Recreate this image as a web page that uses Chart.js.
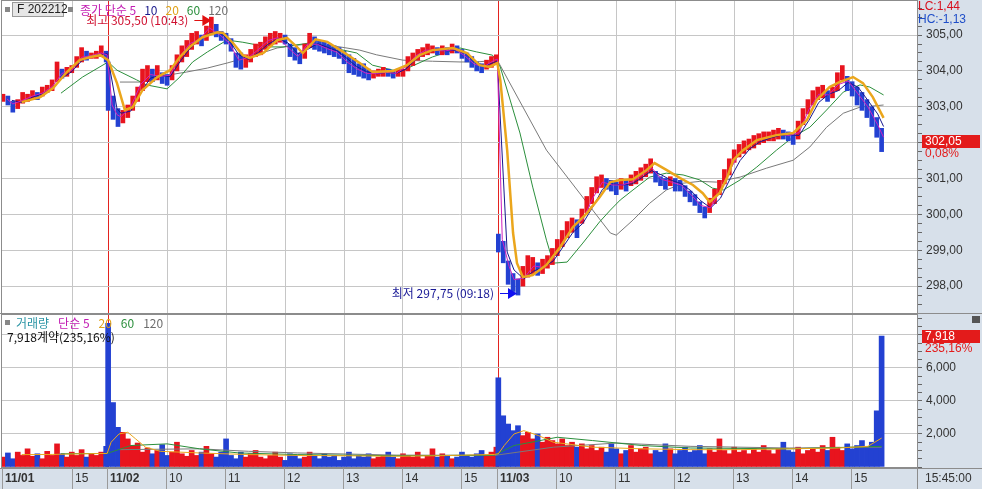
<!DOCTYPE html>
<html>
<head>
<meta charset="utf-8">
<script src="https://cdn.jsdelivr.net/npm/chart.js@4.4.0/dist/chart.umd.min.js"></script>
<style>
  html, body { margin: 0; padding: 0; background: #fff; }
  #wrap { position: relative; width: 982px; height: 489px; overflow: hidden; }
  #price { position: absolute; left: 0; top: 0; }
  #vol { position: absolute; left: 0; top: 314px; }
</style>
</head>
<body>
<div id="wrap">
  <canvas id="price" width="982" height="314"></canvas>
  <canvas id="vol" width="982" height="175"></canvas>
</div>
<script>
// 1분봉 인덱스: 11/01 13:49 부터, 11/02 09:00 = 107, 11/03 09:00 = 504
const sessionStart = [0, 107, 504];
const sessionBuckets = [22, 80, 79];
const BUCKET = 5;

const timeTicks = [0, 71, 107, 167, 227, 287, 347, 407, 467, 504, 564, 624, 684, 744, 804, 864];
const timeLabels = ['11/01', '15', '11/02', '10', '11', '12', '13', '14', '15', '11/03', '10', '11', '12', '13', '14', '15'];
const dayTicks = [107, 504];

// 가격 (5분 구간 고가/저가)
const candleHi = [
  303.35, 303.30, 303.15, 303.20, 303.40, 303.35, 303.45, 303.40, 303.55, 303.60, 303.75, 304.25, 304.05, 304.10, 304.15, 304.40, 304.65, 304.55, 304.50, 304.55, 304.70, 304.55,
  304.25, 303.30,
  302.95, 302.90, 303.05, 303.30, 303.55, 304.05, 304.15, 304.05, 304.15, 303.95,
  303.90, 304.15, 304.45, 304.70, 304.85, 305.05, 305.10, 305.00, 305.25, 305.50,
  305.30, 305.10, 305.05, 304.90, 304.50, 304.50, 304.45, 304.60, 304.75, 304.80,
  304.95, 305.05, 305.10, 305.05, 305.00, 304.75, 304.65, 304.50, 304.75, 305.05,
  304.95, 304.85, 304.80, 304.75, 304.70, 304.65, 304.55, 304.45, 304.35, 304.20,
  304.20, 304.05, 304.00, 304.05, 304.10, 304.05, 304.00, 304.05, 304.05, 304.40,
  304.50, 304.60, 304.65, 304.75, 304.70, 304.65, 304.70, 304.65, 304.75, 304.70,
  304.60, 304.50, 304.40, 304.25, 304.20, 304.30, 304.40, 304.45,
  299.45, 299.25, 298.70, 298.35, 298.20, 298.55, 298.85, 298.80, 298.65, 298.75,
  298.85, 299.05, 299.30, 299.55, 299.80, 299.90, 299.85, 300.15, 300.50, 300.75,
  301.05, 301.10, 301.00, 300.95, 300.90, 301.00, 300.95, 301.10, 301.20, 301.30,
  301.40, 301.55, 301.20, 301.05, 301.00, 301.05, 301.00, 300.95, 300.80, 300.65,
  300.55, 300.35, 300.20, 300.45, 300.70, 300.95, 301.25, 301.55, 301.80, 301.95,
  302.05, 302.10, 302.20, 302.25, 302.30, 302.30, 302.35, 302.40, 302.35, 302.30,
  302.25, 302.60, 302.95, 303.20, 303.45, 303.55, 303.60, 303.45, 303.55, 303.95,
  304.15, 303.85, 303.70, 303.55, 303.40, 303.20, 303.00, 302.70, 302.40
];
const candleLo = [
  303.15, 303.05, 302.85, 302.95, 303.10, 303.15, 303.20, 303.20, 303.30, 303.40, 303.45, 303.70, 303.80, 303.85, 303.95, 304.10, 304.25, 304.30, 304.35, 304.35, 304.40, 304.25,
  302.90, 302.65,
  302.45, 302.55, 302.70, 302.90, 303.15, 303.45, 303.70, 303.70, 303.75, 303.65,
  303.60, 303.75, 304.00, 304.25, 304.40, 304.60, 304.75, 304.70, 304.85, 305.05,
  304.95, 304.85, 304.75, 304.55, 304.10, 304.05, 304.10, 304.25, 304.40, 304.45,
  304.60, 304.70, 304.75, 304.80, 304.75, 304.40, 304.30, 304.20, 304.35, 304.65,
  304.60, 304.55, 304.50, 304.45, 304.40, 304.35, 304.20, 303.95, 303.90, 303.85,
  303.80, 303.75, 303.80, 303.85, 303.85, 303.85, 303.80, 303.85, 303.85, 304.00,
  304.15, 304.30, 304.40, 304.45, 304.50, 304.45, 304.45, 304.45, 304.50, 304.50,
  304.35, 304.25, 304.10, 304.00, 303.95, 304.05, 304.10, 304.20,
  298.95, 298.65, 298.05, 297.85, 297.75, 298.00, 298.25, 298.35, 298.30, 298.35,
  298.50, 298.60, 298.85, 299.10, 299.35, 299.50, 299.35, 299.75, 300.05, 300.30,
  300.60, 300.75, 300.70, 300.65, 300.55, 300.70, 300.65, 300.80, 300.85, 300.95,
  301.05, 301.15, 300.90, 300.80, 300.70, 300.80, 300.65, 300.65, 300.50, 300.35,
  300.25, 300.05, 299.90, 300.05, 300.30, 300.55, 300.85, 301.10, 301.45, 301.60,
  301.70, 301.80, 301.85, 301.95, 302.00, 302.05, 302.05, 302.10, 302.10, 302.05,
  301.95, 302.10, 302.50, 302.80, 303.05, 303.20, 303.25, 303.15, 303.25, 303.45,
  303.75, 303.45, 303.30, 303.05, 302.90, 302.70, 302.45, 302.15, 301.75
];

// 이동평균 (종가 단순)
const ma5Idx = [4, 10, 20, 30, 40, 50, 60, 70, 80, 90, 100, 106,
  111, 116, 120, 130, 140, 150, 160, 170, 180, 190, 200, 210, 220, 230, 240, 250, 260, 270, 280, 290, 300, 310, 320, 330, 340, 350, 360, 370, 380, 390, 400, 410, 420, 430, 440, 450, 460, 470, 480, 490, 500, 503,
  508, 515, 520, 530, 540, 550, 560, 570, 580, 590, 600, 610, 620, 630, 640, 650, 660, 670, 680, 690, 700, 710, 720, 730, 740, 750, 760, 770, 780, 790, 800, 810, 820, 830, 840, 850, 860, 870, 880, 890, 896];
const ma5 = [303.22, 303.08, 303.18, 303.30, 303.38, 303.56, 303.93, 304.02, 304.38, 304.43, 304.50, 304.45,
  303.05, 302.78, 302.72, 303.00, 303.62, 303.90, 303.85, 303.88, 304.40, 304.76, 304.88, 305.20, 305.02, 304.78, 304.30, 304.38, 304.60, 304.85, 304.93, 304.65, 304.40, 304.75, 304.74, 304.62, 304.52, 304.25, 304.06, 303.93, 303.93, 303.96, 303.93, 304.12, 304.42, 304.58, 304.57, 304.56, 304.60, 304.42, 304.18, 304.13, 304.30, 304.33,
  299.30, 298.55, 298.18, 298.22, 298.56, 298.52, 298.78, 299.25, 299.66, 299.85, 300.45, 300.90, 300.82, 300.82, 300.90, 301.10, 301.30, 300.98, 300.90, 300.82, 300.55, 300.25, 300.18, 300.68, 301.25, 301.74, 301.93, 302.08, 302.17, 302.24, 302.20, 302.28, 302.92, 303.35, 303.33, 303.62, 303.72, 303.36, 303.00, 302.50, 302.15];

const ma10Idx = [9, 20, 30, 40, 50, 60, 70, 80, 90, 100, 106,
  116, 120, 130, 140, 150, 160, 170, 180, 190, 200, 210, 220, 230, 240, 250, 260, 270, 280, 290, 300, 310, 320, 330, 340, 350, 360, 370, 380, 390, 400, 410, 420, 430, 440, 450, 460, 470, 480, 490, 500, 503,
  513, 520, 530, 540, 550, 560, 570, 580, 590, 600, 610, 620, 630, 640, 650, 660, 670, 680, 690, 700, 710, 720, 730, 740, 750, 760, 770, 780, 790, 800, 810, 820, 830, 840, 850, 860, 870, 880, 890, 896];
const ma10 = [303.18, 303.12, 303.27, 303.36, 303.50, 303.80, 303.98, 304.28, 304.42, 304.47, 304.48,
  302.95, 302.82, 302.88, 303.38, 303.80, 303.88, 303.84, 304.25, 304.62, 304.86, 305.05, 305.08, 304.86, 304.45, 304.32, 304.52, 304.75, 304.90, 304.78, 304.48, 304.60, 304.76, 304.66, 304.56, 304.35, 304.12, 303.98, 303.92, 303.96, 303.93, 304.05, 304.32, 304.52, 304.58, 304.56, 304.58, 304.50, 304.25, 304.14, 304.24, 304.28,
  298.95, 298.45, 298.20, 298.42, 298.53, 298.70, 299.10, 299.50, 299.75, 300.20, 300.70, 300.85, 300.82, 300.85, 301.02, 301.22, 301.10, 300.95, 300.86, 300.66, 300.38, 300.18, 300.45, 301.00, 301.50, 301.83, 302.02, 302.12, 302.20, 302.22, 302.20, 302.62, 303.12, 303.35, 303.45, 303.68, 303.55, 303.18, 302.80, 302.45];

const ma20Idx = [19, 38, 51, 65, 78, 89, 99, 107, 116, 124, 132, 142, 157, 170, 180, 190, 203, 218, 224, 234, 244, 251, 265, 279,
  289, 299, 305, 312, 318, 330, 346, 363, 376, 397, 411, 424, 437, 458, 472, 485, 495, 503, 506, 513, 519, 523, 529, 539,
  553, 567, 580, 594, 607, 618, 628, 641, 655, 663, 675, 689, 702, 712, 719, 729, 737, 743, 753, 767, 787, 804, 818, 828,
  841, 851, 865, 875, 885, 896];
const ma20 = [303.13, 303.27, 303.52, 303.97, 304.30, 304.39, 304.44, 304.30, 303.66, 302.91, 302.99, 303.47, 303.83, 304.02, 304.39, 304.67, 304.94, 305.08, 305.06, 304.78, 304.44, 304.36, 304.50, 304.86,
  304.92, 304.67, 304.50, 304.70, 304.88, 304.81, 304.53, 304.22, 303.97, 304.00, 304.16, 304.44, 304.58, 304.64, 304.50, 304.16, 304.11, 304.22, 303.75, 301.79, 299.48, 298.64, 298.25, 298.31,
  298.59, 299.09, 299.65, 300.03, 300.48, 300.90, 300.96, 300.98, 301.24, 301.43, 301.24, 301.01, 300.82, 300.59, 300.35, 300.59, 301.04, 301.51, 301.79, 302.07, 302.21, 302.27, 302.63, 303.19,
  303.55, 303.69, 303.83, 303.66, 303.27, 302.69];

const ma60Idx = [59, 81, 107, 116, 136, 146, 167, 180, 193, 208, 228, 244, 269, 285, 312, 336, 360, 376, 397, 407,
  437, 465, 482, 498, 506, 526, 539, 553, 560, 574, 590, 607, 618, 628, 641, 658, 675, 692, 709, 722,
  733, 750, 767, 787, 804, 821, 838, 855, 872, 882, 896];
const ma60 = [303.38, 303.83, 304.25, 304.02, 303.75, 303.61, 303.50, 303.83, 304.25, 304.53, 304.86, 304.80, 304.67, 304.67, 304.78, 304.64, 304.50, 304.16, 304.02, 304.02,
  304.39, 304.64, 304.53, 304.44, 304.11, 302.27, 300.76, 299.28, 298.64, 298.67, 299.20, 299.79, 300.12, 300.40, 300.68, 301.04, 301.15, 301.10, 300.96, 300.73,
  300.68, 300.96, 301.32, 301.79, 302.16, 302.43, 302.91, 303.41, 303.61, 303.55, 303.33];

const ma120Idx = [119, 140, 167, 187, 208, 228, 258, 279, 300, 312, 336, 363, 380, 407, 437, 465, 482, 503, 553, 618,
  624, 641, 658, 675, 692, 709, 726, 750, 777, 804, 821, 838, 855, 872, 896];
const ma120 = [303.69, 303.69, 303.88, 303.97, 304.08, 304.22, 304.45, 304.64, 304.72, 304.75, 304.70, 304.58, 304.45, 304.30, 304.27, 304.25, 304.25, 304.30, 301.79, 299.48,
  299.42, 299.84, 300.31, 300.68, 300.87, 300.92, 300.90, 301.04, 301.29, 301.51, 301.88, 302.43, 302.82, 302.99, 303.05];

// 거래량 (5분 구간 대표 1분봉)
const volume = [
  600, 850, 500, 900, 700, 1100, 650, 800, 500, 950, 700, 1400, 800, 600, 900, 700, 1050, 600, 800, 700, 900, 1250,
  8700, 3900, 2400, 2100, 1700, 1300, 1450, 900, 1150, 800, 1000, 1350, 700, 900, 1500, 800, 650, 1000, 700, 900, 1250, 800, 600, 900, 1700,
  700, 500, 900, 600, 800, 1000, 600, 500, 700, 900,
  600, 400, 800, 700, 500, 600, 900, 700, 500, 800,
  600, 700, 400, 600, 900, 500, 700, 600, 800, 500,
  600, 700, 900, 600, 500, 800, 700, 600, 900, 500,
  700, 1100, 600, 800, 700, 500, 600, 900, 700, 600,
  800, 1000, 700, 900, 1200,
  5400, 3100, 2600, 2200, 2500, 1900, 2100, 1700, 2000, 1500,
  1800, 1600, 1400, 1700, 1300, 1500, 1200, 1400, 1100, 1300,
  1000, 1200, 900, 1400, 1100, 800, 1000, 1300, 900, 1100,
  1200, 800, 1000, 900, 1400, 1100, 800, 1000, 1200, 900,
  1000, 1300, 800, 1100, 900, 1700, 1000, 800, 1200, 900,
  1000, 800, 1100, 900, 1300, 1000, 800, 1100, 1500, 1000,
  900, 1200, 800, 1000, 1100, 900, 1300, 1000, 1800, 1200,
  1000, 1400, 1100, 1300, 1600, 1200, 1500, 3400, 7918
];
const vma20Idx = [19, 50, 80, 106, 110, 118, 127, 135, 145, 160, 200, 250, 300, 350, 400, 450, 500, 504, 510, 520, 530, 545, 560, 600, 650, 700, 750, 800, 850, 880, 894];
const vma20 = [750, 760, 800, 820, 1500, 2000, 2100, 1700, 1200, 950, 850, 750, 700, 680, 650, 690, 760, 800, 1300, 2000, 2200, 1900, 1500, 1200, 1100, 1050, 1050, 1100, 1150, 1250, 1750];
const vma60Idx = [59, 106, 130, 167, 200, 240, 300, 400, 500, 520, 564, 600, 650, 700, 800, 894];
const vma60 = [800, 820, 1300, 1400, 1100, 850, 750, 680, 720, 1300, 1800, 1600, 1300, 1150, 1100, 1250];
const vma120Idx = [119, 200, 250, 300, 400, 500, 560, 624, 700, 800, 894];
const vma120 = [1050, 1100, 950, 850, 720, 700, 1200, 1450, 1250, 1150, 1200];

// 표시값
const highIdx = 210, highPrice = 305.50, highTime = '10:43';
const lowIdx = 522, lowPrice = 297.75, lowTime = '09:18';
const lastClose = 302.05, changePct = 0.08;
const lcValue = 1.44, hcValue = -1.13;
const lastVolume = 7918, volumePct = 235.16;
const lastTime = '15:45:00';

const X_MIN = -1, X_MAX = 930;
const PANEL = '#d7e0ea';
const GRID = '#c6c6c6';
const FRAME = '#8c8c8c';
const FAMILY = "'Liberation Sans Narrow', 'Liberation Sans', 'Noto Sans CJK KR', sans-serif";
const KFAMILY = "'Noto Sans CJK KR', 'Liberation Sans', sans-serif";

Chart.defaults.animation = false;
Chart.defaults.elements.point.radius = 0;
Chart.defaults.elements.line.tension = 0;

const candleIdx = [];
sessionStart.forEach((s, d) => {
  for (let k = 0; k < sessionBuckets[d]; k++) candleIdx.push(s + k * BUCKET);
});
const mids = candleHi.map((h, i) => (h + candleLo[i]) / 2);
const barColors = mids.map((m, i) => (i === 0 || m >= mids[i - 1]) ? '#e8141e' : '#2341d2');

const pts = (xs, ys) => xs.map((x, i) => ({ x, y: ys[i] }));
const comma = (v, d) => v.toFixed(d).replace('.', ',');
const thousands = v => Math.round(v).toString().replace(/\B(?=(\d{3})+(?!\d))/g, ',');

function xAxis() {
  return {
    type: 'linear', min: X_MIN, max: X_MAX, offset: false,
    afterBuildTicks: s => { s.ticks = timeTicks.map(v => ({ value: v })); },
    afterFit: s => { s.height = 0; s.paddingLeft = 0; s.paddingRight = 0; },
    ticks: { display: false },
    grid: {
      offset: false, drawTicks: false,
      color: c => c.tick.value === 0 ? 'rgba(0,0,0,0)' : (dayTicks.includes(c.tick.value) ? '#e3231f' : GRID)
    },
    border: { display: false }
  };
}

function lineSet(xs, ys, color, width, order) {
  return { type: 'line', data: pts(xs, ys), borderColor: color, borderWidth: width, fill: false, order };
}

function legendRow(ctx, x, y, parts, gap) {
  parts.forEach(([t, c]) => {
    ctx.fillStyle = c;
    ctx.fillText(t, x, y);
    x += ctx.measureText(t).width + gap;
  });
}

function arrowRight(ctx, tipX, yy, color) {
  ctx.strokeStyle = color; ctx.fillStyle = color; ctx.lineWidth = 1;
  ctx.beginPath(); ctx.moveTo(tipX - 17, yy + 0.5); ctx.lineTo(tipX - 8, yy + 0.5); ctx.stroke();
  ctx.beginPath(); ctx.moveTo(tipX, yy + 0.5); ctx.lineTo(tipX - 9, yy - 5); ctx.lineTo(tipX - 9, yy + 6); ctx.closePath(); ctx.fill();
}

const priceFrame = {
  id: 'priceFrame',
  beforeDraw(chart) {
    const { ctx, chartArea: a, width, height } = chart;
    ctx.save();
    ctx.fillStyle = '#fff'; ctx.fillRect(0, 0, width, height);
    ctx.fillStyle = PANEL; ctx.fillRect(a.right, 0, width - a.right, height);
    ctx.restore();
  },
  afterDraw(chart) {
    const { ctx, chartArea: a, width, scales: { x, y } } = chart;
    ctx.save();
    ctx.strokeStyle = FRAME; ctx.lineWidth = 1;
    ctx.strokeRect(a.left - 0.5, a.top - 0.5, a.right - a.left + 1, a.bottom - a.top + 1);
    ctx.beginPath(); ctx.moveTo(0, a.bottom + 0.5); ctx.lineTo(width, a.bottom + 0.5); ctx.stroke();

    // 상단 범례
    ctx.textBaseline = 'middle';
    ctx.fillStyle = '#888'; ctx.fillRect(5, 7, 5, 5);
    ctx.fillStyle = '#e6e6e6'; ctx.fillRect(12, 2, 52, 15);
    ctx.strokeStyle = '#9a9a9a'; ctx.strokeRect(12.5, 2.5, 51, 14);
    ctx.font = '12px ' + FAMILY;
    ctx.fillStyle = '#222'; ctx.fillText('F 202212', 17, 10);
    ctx.fillStyle = '#888'; ctx.fillRect(68, 7, 5, 5);
    ctx.font = '12px ' + KFAMILY;
    legendRow(ctx, 80, 10, [['종가 단순 5', '#c21cb3'], ['10', '#1a1a8c'], ['20', '#e0a21a'], ['60', '#2b8f3c'], ['120', '#6d6d6d']], 8);

    // 최고 / 최저
    const hx = x.getPixelForValue(highIdx) + 2, hy = Math.round(y.getPixelForValue(highPrice)) + 3;
    ctx.textAlign = 'right';
    ctx.fillStyle = '#cf1030';
    ctx.fillText('최고 ' + comma(highPrice, 2) + ' (' + highTime + ')', hx - 23, hy);
    arrowRight(ctx, hx, hy, '#e01010');
    const lx = x.getPixelForValue(lowIdx) + 1, ly = Math.round(y.getPixelForValue(lowPrice)) - 2;
    ctx.fillStyle = '#1a1a96';
    ctx.fillText('최저 ' + comma(lowPrice, 2) + ' (' + lowTime + ')', lx - 23, ly);
    arrowRight(ctx, lx, ly, '#1010f0');

    // 우측 정보
    ctx.textAlign = 'left';
    ctx.font = '12px ' + FAMILY;
    ctx.fillStyle = '#d8101e'; ctx.fillText('LC:' + comma(lcValue, 2), a.right + 1, 7);
    ctx.fillStyle = '#1f4ec8'; ctx.fillText('HC:' + comma(hcValue, 2), a.right + 1, 20);
    const yc = Math.round(y.getPixelForValue(lastClose));
    ctx.fillStyle = '#e31b1b'; ctx.fillRect(a.right + 5, yc - 6, 58, 13);
    ctx.fillStyle = '#fff'; ctx.fillText(comma(lastClose, 2), a.right + 8, yc + 1);
    ctx.fillStyle = '#e31b1b'; ctx.fillText(comma(changePct, 2) + '%', a.right + 8, yc + 13);
    ctx.restore();
  }
};

const volFrame = {
  id: 'volFrame',
  beforeDraw(chart) {
    const { ctx, chartArea: a, width, height } = chart;
    ctx.save();
    ctx.fillStyle = '#fff'; ctx.fillRect(0, 0, width, height);
    ctx.fillStyle = PANEL; ctx.fillRect(a.right, 0, width - a.right, height);
    ctx.restore();
  },
  afterDraw(chart) {
    const { ctx, chartArea: a, width, height, scales: { x, y } } = chart;
    ctx.save();
    ctx.strokeStyle = FRAME; ctx.lineWidth = 1;
    ctx.strokeRect(a.left - 0.5, a.top - 0.5, a.right - a.left + 1, a.bottom - a.top + 1);

    // 하단 시간축
    const top = a.bottom + 1;
    ctx.fillStyle = PANEL; ctx.fillRect(0, top, a.right, height - top);
    ctx.strokeStyle = FRAME;
    ctx.beginPath(); ctx.moveTo(0, top + 0.5); ctx.lineTo(width, top + 0.5); ctx.stroke();
    ctx.beginPath(); ctx.moveTo(a.right + 0.5, top); ctx.lineTo(a.right + 0.5, height); ctx.stroke();
    ctx.textBaseline = 'middle'; ctx.textAlign = 'left';
    timeTicks.forEach((v, i) => {
      const px = Math.round(x.getPixelForValue(v)) - 1;
      ctx.strokeStyle = '#9a9a9a';
      ctx.beginPath(); ctx.moveTo(px + 0.5, top); ctx.lineTo(px + 0.5, height); ctx.stroke();
      const isDay = timeLabels[i].includes('/');
      ctx.font = (isDay ? 'bold ' : '') + '12px ' + FAMILY;
      ctx.fillStyle = '#333';
      ctx.fillText(timeLabels[i], px + 3, top + 11);
    });
    ctx.font = '12px ' + FAMILY;
    ctx.fillStyle = '#333';
    ctx.fillText(lastTime, a.right + 8, top + 11);

    // 거래량 범례
    ctx.fillStyle = '#888'; ctx.fillRect(5, 6, 5, 5);
    ctx.font = '12px ' + KFAMILY;
    legendRow(ctx, 16, 9, [['거래량', '#2b95a5'], ['단순 5', '#c21cb3'], ['20', '#e0a21a'], ['60', '#2b8f3c'], ['120', '#6d6d6d']], 9);
    ctx.fillStyle = '#111';
    ctx.fillText(thousands(lastVolume) + '계약(' + comma(volumePct, 2) + '%)', 7, 23);

    // 우측 현재 거래량
    ctx.font = '12px ' + FAMILY;
    const yv = Math.round(y.getPixelForValue(lastVolume));
    ctx.fillStyle = '#e31b1b'; ctx.fillRect(a.right + 5, yv - 6, 58, 13);
    ctx.fillStyle = '#fff'; ctx.fillText(thousands(lastVolume), a.right + 8, yv + 1);
    ctx.fillStyle = '#e31b1b'; ctx.fillText(comma(volumePct, 2) + '%', a.right + 8, yv + 13);
    ctx.fillStyle = '#555'; ctx.fillRect(width - 10, 2, 8, 7);
    ctx.restore();
  }
};

new Chart(document.getElementById('price'), {
  type: 'bar',
  data: {
    datasets: [
      lineSet(ma20Idx, ma20, '#eba61c', 2.5, 0),
      lineSet(ma5Idx, ma5, '#cf1fc0', 1, 1),
      lineSet(ma10Idx, ma10, '#17178f', 1, 2),
      {
        type: 'bar', order: 3,
        data: candleIdx.map((x, i) => ({ x, y: [candleLo[i], candleHi[i]] })),
        backgroundColor: barColors, barThickness: 4, grouped: false
      },
      lineSet(ma60Idx, ma60, '#2b8f3c', 1, 4),
      lineSet(ma120Idx, ma120, '#7a7a7a', 1, 5)
    ]
  },
  options: {
    responsive: false,
    events: [],
    layout: { padding: { left: 2, top: 1, right: 0, bottom: 1 } },
    plugins: { legend: { display: false }, tooltip: { enabled: false } },
    scales: {
      x: xAxis(),
      y: {
        position: 'right', min: 297.25, max: 305.95,
        afterBuildTicks: s => {
          const t = [];
          for (let v = 297.25; v <= 305.95; v += 0.25) t.push({ value: Math.round(v * 100) / 100 });
          s.ticks = t;
        },
        afterFit: s => { s.width = 65; s.paddingTop = 0; s.paddingBottom = 0; },
        ticks: {
          autoSkip: false, padding: 4, color: '#333',
          font: { family: FAMILY, size: 12 },
          callback: v => (Number.isInteger(v) && v !== Math.floor(lastClose)) ? comma(v, 2) : ''
        },
        grid: {
          color: c => Number.isInteger(c.tick.value) ? GRID : 'rgba(0,0,0,0)',
          tickColor: '#666', tickLength: 5
        },
        border: { display: true, color: FRAME }
      }
    }
  },
  plugins: [priceFrame]
});

new Chart(document.getElementById('vol'), {
  type: 'bar',
  data: {
    datasets: [
      lineSet(vma20Idx, vma20, '#eba61c', 1, 0),
      lineSet(vma60Idx, vma60, '#2b8f3c', 1, 1),
      lineSet(vma120Idx, vma120, '#7a7a7a', 1, 2),
      {
        type: 'bar', order: 3,
        data: candleIdx.map((x, i) => ({ x, y: volume[i] })),
        backgroundColor: barColors, barThickness: 5, grouped: false
      }
    ]
  },
  options: {
    responsive: false,
    events: [],
    layout: { padding: { left: 2, top: 1, right: 0, bottom: 22 } },
    plugins: { legend: { display: false }, tooltip: { enabled: false } },
    scales: {
      x: xAxis(),
      y: {
        position: 'right', min: 0, max: 9200,
        afterBuildTicks: s => {
          const t = [];
          for (let v = 0; v <= 9000; v += 500) t.push({ value: v });
          s.ticks = t;
        },
        afterFit: s => { s.width = 65; s.paddingTop = 0; s.paddingBottom = 0; },
        ticks: {
          autoSkip: false, padding: 4, color: '#333',
          font: { family: FAMILY, size: 12 },
          callback: v => (v > 0 && v % 2000 === 0 && v < 8000) ? thousands(v) : ''
        },
        grid: {
          color: c => (c.tick.value > 0 && c.tick.value % 2000 === 0) ? GRID : 'rgba(0,0,0,0)',
          tickColor: '#666', tickLength: 5
        },
        border: { display: true, color: FRAME }
      }
    }
  },
  plugins: [volFrame]
});
</script>
</body>
</html>
